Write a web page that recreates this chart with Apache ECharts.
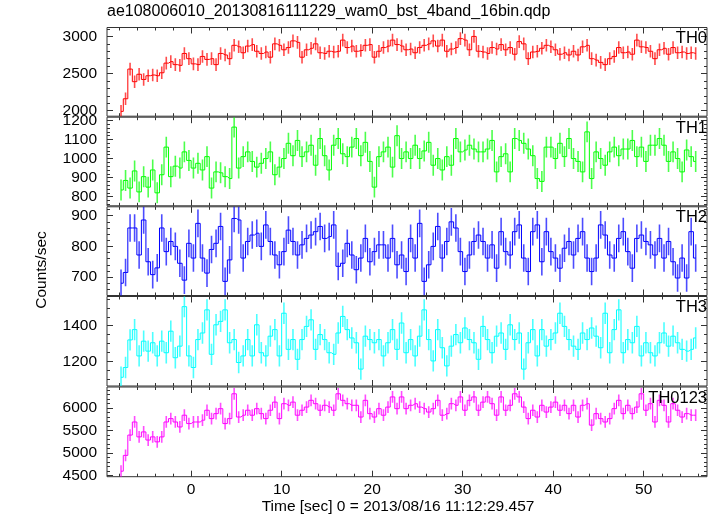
<!DOCTYPE html>
<html><head><meta charset="utf-8">
<script src="https://cdn.jsdelivr.net/npm/echarts@6/dist/echarts.min.js"></script>
<style>html,body{margin:0;padding:0;background:#fff}#c{width:717px;height:516px}</style>
</head><body><div id="c"></div>
<script>
// ---- data (count rates, 0.5 s bins starting at t = -7.75 s) ----
const binStart = -7.75;
const binWidth = 0.5;
const th0 = [1990,2160,2560,2390,2490,2420,2470,2480,2470,2510,
 2640,2660,2620,2610,2770,2700,2630,2620,2730,2690,
 2700,2620,2770,2750,2700,2880,2860,2780,2870,2890,
 2800,2770,2790,2720,2900,2880,2820,2850,2940,2920,
 2720,2820,2840,2900,2780,2770,2800,2790,2800,2950,
 2850,2870,2800,2810,2880,2890,2720,2800,2850,2870,
 2950,2890,2870,2820,2830,2780,2850,2880,2900,2940,
 2870,2950,2800,2830,2850,2970,2950,2820,3000,2800,
 2790,2770,2850,2830,2890,2820,2850,2760,2930,2900,
 2700,2790,2800,2840,2880,2860,2820,2760,2780,2750,
 2800,2750,2860,2880,2700,2680,2650,2620,2700,2730,
 2850,2780,2790,2760,2950,2860,2850,2800,2700,2820,
 2840,2760,2850,2780,2790,2770,2780,2770];
const th1 = [835,885,845,935,825,905,850,940,820,915,
 1060,905,960,950,1035,990,950,975,940,1010,
 845,930,925,905,895,1165,950,1010,1035,985,
 955,975,1000,1035,915,955,1000,1080,1015,1095,
 1010,1035,1070,965,1105,1015,940,1070,1105,1025,
 1010,1060,1105,1015,1085,985,850,1010,1035,1060,
 955,1120,1000,1035,1000,1070,1000,1040,1085,965,
 1000,940,1010,965,1105,1035,1045,1070,1050,1035,
 1035,1050,1095,930,1010,1025,930,1105,1095,1080,
 1050,1015,895,880,1060,1060,1000,1080,1010,1105,
 1000,985,930,1140,895,1035,1000,965,1035,1060,
 1015,1050,1050,1095,1010,1060,985,1070,1070,1105,
 1070,985,1035,1000,930,1045,1010,985];
const th2 = [680,715,860,860,772,886,750,708,730,860,
 783,816,800,745,690,810,762,875,762,713,
 790,810,865,686,756,891,886,762,816,837,
 843,800,870,816,772,740,783,853,816,772,
 805,826,837,848,865,826,832,870,735,745,
 810,772,724,762,826,750,783,805,805,762,
 826,740,772,718,826,762,875,686,740,800,
 865,762,816,880,860,783,718,772,816,837,
 816,762,805,729,848,783,772,848,870,762,
 718,848,870,750,848,783,762,729,794,816,
 772,826,848,762,718,762,870,837,772,762,
 826,848,783,729,826,837,816,805,772,826,
 762,816,750,697,762,697,848,762];
const th3 = [1110,1165,1320,1378,1230,1313,1257,1304,1230,1313,
 1248,1369,1220,1285,1507,1230,1165,1322,1359,1489,
 1239,1405,1424,1489,1304,1322,1193,1230,1322,1230,
 1405,1248,1230,1341,1378,1230,1470,1267,1322,1211,
 1322,1396,1433,1267,1350,1322,1248,1239,1359,1452,
 1378,1331,1304,1156,1341,1322,1304,1322,1230,1304,
 1378,1267,1415,1248,1322,1230,1341,1489,1322,1202,
 1378,1276,1174,1285,1350,1304,1387,1322,1304,1211,
 1396,1322,1248,1341,1359,1267,1405,1322,1359,1156,
 1304,1378,1230,1378,1285,1322,1359,1470,1396,1322,
 1285,1267,1359,1322,1387,1341,1276,1470,1248,1378,
 1489,1248,1322,1304,1396,1230,1304,1248,1230,1304,
 1359,1285,1341,1304,1267,1257,1267,1331];
const th0123 = [4600,4950,5400,5690,5360,5470,5290,5360,5250,5360,
 5690,5765,5690,5580,5840,5655,5690,5690,5730,5950,
 5765,5875,5985,5655,5765,6315,5800,5840,5950,5840,
 5985,5875,5765,5950,6130,5765,6095,6060,6130,5840,
 5950,6020,6170,6095,5950,6060,6020,5950,6315,6170,
 6095,6060,6060,5800,6170,5875,5800,5985,5840,6020,
 6245,5985,6245,5985,6060,6095,6020,5985,5910,5985,
 6170,5840,5875,6095,6060,6245,5950,6170,6245,5950,
 6130,6245,6095,5840,6245,5950,6060,6315,6245,6020,
 5765,5950,5800,6060,5910,6020,6130,5950,6060,5875,
 6060,5800,6060,6095,5620,5875,5765,5690,5765,5985,
 6170,5875,6060,5875,6020,6315,5950,6095,5690,6170,
 6060,5690,6095,5950,5800,5875,5840,5840];
const errHalf = [85, 55, 45, 60, 130];
const panelNames = ['TH0','TH1','TH2','TH3','TH0123'];
const yMajorTicks = [[2000,2500,3000],[800,900,1000,1100,1200],[700,800,900],[1200,1400],[4500,5000,5500,6000]];
const yMinorStep = [100, 20, 20, 50, 100];
const yRanges = [[1925,3120],[752,1217],[640,929],[1061,1564],[4478,6465]];
const xMajorTicks = [0,10,20,30,40,50];
const xMinorStep = 2;
const xRange = [-9.3, 57.0];
const titleText = 'ae108006010_20130816111229_wam0_bst_4band_16bin.qdp';
const xName = 'Time [sec] 0 = 2013/08/16 11:12:29.457';
const yName = 'Counts/sec';

// ---- styles / layout ----
const seriesValues = [th0, th1, th2, th3, th0123];
const colors = ['#ff0000', '#00ff00', '#0000ff', '#00ffff', '#ff00ff'];
const FF = '"Liberation Sans", Arial, Helvetica, sans-serif';
const FS = 15.5;
const tops = [27.5, 117.2, 206.8, 296.5, 387];
const bottoms = [116.2, 205.8, 295.5, 386, 476.7];
const LEFT = 107, RIGHT = 10;
const MAJ = 6, MIN = 3;
const AX = '#333';

function minorList(min, max, step, majors) {
  const out = [];
  for (let v = Math.ceil(min / step) * step; v <= max + 1e-9; v += step) {
    if (!majors.some(m => Math.abs(m - v) < 1e-6)) out.push(v);
  }
  return out;
}
const times = seriesValues[0].map((_, i) => binStart + i * binWidth);

const grids = [], xAxes = [], yAxes = [], series = [], graphics = [];
const xMinor = minorList(xRange[0], xRange[1], xMinorStep, xMajorTicks);

for (let k = 0; k < 5; k++) {
  grids.push({left: LEFT, right: RIGHT, top: tops[k], height: bottoms[k] - tops[k],
    show: true, borderColor: AX, borderWidth: 1, backgroundColor: 'transparent'});
  const isBottom = k === 4;
  const mkX = (pos, vals, len, label) => ({
    gridIndex: k, type: 'value', min: xRange[0], max: xRange[1], position: pos,
    axisLine: {show: false, onZero: false}, splitLine: {show: false},
    axisTick: {show: true, inside: true, length: len, customValues: vals, lineStyle: {color: AX, width: 1}},
    axisLabel: {show: label, customValues: vals, color: '#000', fontSize: FS, fontFamily: FF, margin: 5,
      formatter: v => String(v)}
  });
  const xBase = xAxes.length;
  xAxes.push(mkX('bottom', xMajorTicks, MAJ, isBottom));
  xAxes.push(mkX('bottom', xMinor, MIN, false));
  xAxes.push(mkX('top', xMajorTicks, MAJ, false));
  xAxes.push(mkX('top', xMinor, MIN, false));

  const yr = yRanges[k];
  const yMinor = minorList(yr[0], yr[1], yMinorStep[k], yMajorTicks[k]);
  const mkY = (pos, vals, len, label) => ({
    gridIndex: k, type: 'value', min: yr[0], max: yr[1], position: pos,
    axisLine: {show: false, onZero: false}, splitLine: {show: false},
    axisTick: {show: true, inside: true, length: len, customValues: vals, lineStyle: {color: AX, width: 1}},
    axisLabel: {show: label, customValues: vals, color: '#000', fontSize: FS, fontFamily: FF, margin: 10,
      formatter: v => String(v)}
  });
  const yBase = yAxes.length;
  yAxes.push(mkY('left', yMajorTicks[k], MAJ, true));
  yAxes.push(mkY('left', yMinor, MIN, false));
  yAxes.push(mkY('right', yMajorTicks[k], MAJ, false));
  yAxes.push(mkY('right', yMinor, MIN, false));

  const vals = seriesValues[k];
  const e = errHalf[k];
  const col = colors[k];
  series.push({
    type: 'custom', xAxisIndex: xBase, yAxisIndex: yBase, clip: true, silent: true,
    encode: {x: 0, y: [1, 2]},
    data: vals.map((v, i) => [times[i], v - e, v + e]),
    renderItem: (params, api) => {
      const p1 = api.coord([api.value(0), api.value(1)]);
      const p2 = api.coord([api.value(0), api.value(2)]);
      return {type: 'line', shape: {x1: p1[0], y1: p1[1], x2: p2[0], y2: p2[1]},
        style: {stroke: col, lineWidth: 1.6, opacity: 0.7}};
    },
    animation: false
  });
  series.push({
    type: 'line', xAxisIndex: xBase, yAxisIndex: yBase, step: 'middle', symbol: 'none',
    data: vals.map((v, i) => [times[i], v]),
    lineStyle: {color: col, width: 1}, silent: true, animation: false
  });
  graphics.push({type: 'text', right: 10, top: tops[k] + 2.5, z: 100,
    style: {text: panelNames[k], fill: '#000', font: '16.5px ' + FF}});
}

graphics.push({type: 'text', left: 107, top: 4,
  style: {text: titleText, fill: '#000', font: '16px ' + FF}});
graphics.push({type: 'text', x: 398, y: 507,
  style: {text: xName, fill: '#000', font: FS + 'px ' + FF, textAlign: 'center', textVerticalAlign: 'middle'}});
graphics.push({type: 'text', x: 42, y: 270, rotation: Math.PI / 2,
  style: {text: yName, fill: '#000', font: FS + 'px ' + FF, textAlign: 'center', textVerticalAlign: 'middle'}});

const chart = echarts.init(document.getElementById('c'), null, {renderer: 'canvas'});
chart.setOption({
  animation: false,
  backgroundColor: '#fff',
  grid: grids, xAxis: xAxes, yAxis: yAxes, series: series, graphic: graphics
});
</script></body></html>
